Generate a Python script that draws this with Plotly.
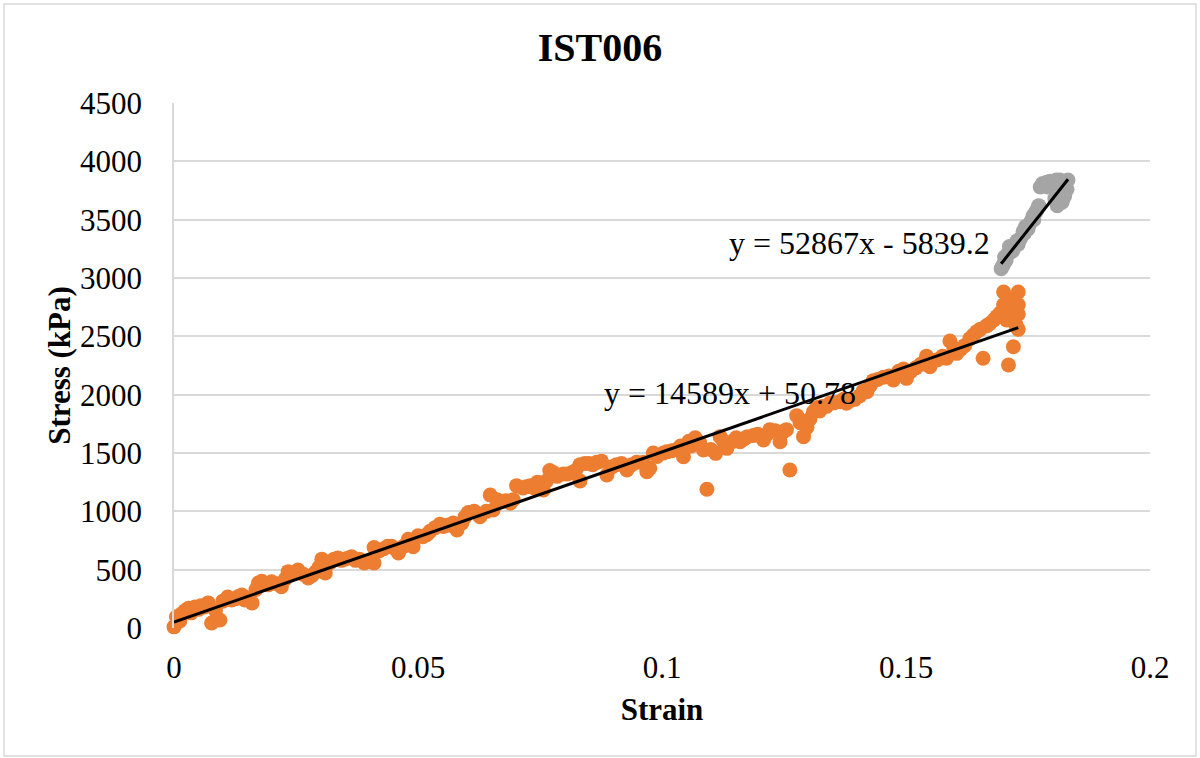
import plotly.graph_objects as go

# ---- data ----
strain_main = [0.0000, 0.0005, 0.0012, 0.0023, 0.0030, 0.0043, 0.0055, 0.0070, 0.0077, 0.0085,
               0.0094, 0.0110, 0.0125, 0.0139, 0.0150, 0.0160, 0.0173, 0.0187, 0.0200, 0.0220,
               0.0234, 0.0254, 0.0265, 0.0275, 0.0290, 0.0303, 0.0310, 0.0320, 0.0336, 0.0350,
               0.0364, 0.0380, 0.0390, 0.0410, 0.0410, 0.0430, 0.0446, 0.0460, 0.0480, 0.0490,
               0.0500, 0.0510, 0.0525, 0.0545, 0.0560, 0.0572, 0.0580, 0.0603, 0.0615, 0.0627,
               0.0648, 0.0654, 0.0670, 0.0689, 0.0702, 0.0715, 0.0730, 0.0745, 0.0757, 0.0770,
               0.0785, 0.0798, 0.0815, 0.0832, 0.0832, 0.0850, 0.0866, 0.0887, 0.0907, 0.0928,
               0.0948, 0.0962, 0.0969, 0.0975, 0.0982, 0.1003, 0.1010, 0.1030, 0.1044, 0.1055,
               0.1068, 0.1085, 0.1092, 0.1110, 0.1119, 0.1133, 0.1145, 0.1160, 0.1175, 0.1187,
               0.1208, 0.1221, 0.1242, 0.1255, 0.1262, 0.1276, 0.1290, 0.1303, 0.1317, 0.1330,
               0.1344, 0.1365, 0.1378, 0.1395, 0.1420, 0.1433, 0.1454, 0.1474, 0.1495, 0.1501,
               0.1520, 0.1542, 0.1549, 0.1565, 0.1583, 0.1590, 0.1604, 0.1620, 0.1631, 0.1645,
               0.1658, 0.1672, 0.1686, 0.1700, 0.1700, 0.1706, 0.1710, 0.1720, 0.1730, 0.1730,
               0.1730, 0.1730]
stress_main = [10, 97, 60, 150, 170, 180, 190, 215, 43, 150,
               69, 266, 250, 283, 260, 214, 386, 380, 397, 354,
               483, 497, 460, 428, 480, 590, 471, 560, 600, 590,
               610, 590, 557, 557, 690, 680, 700, 643, 760, 697,
               790, 783, 830, 890, 880, 900, 840, 990, 1000, 954,
               1140, 1011, 1080, 1069, 1220, 1200, 1220, 1250, 1183, 1350,
               1300, 1320, 1330, 1400, 1260, 1410, 1420, 1311, 1400, 1354,
               1420, 1420, 1340, 1369, 1500, 1500, 1510, 1530, 1468, 1600,
               1630, 1526, 1189, 1497, 1640, 1540, 1600, 1597, 1640, 1650,
               1611, 1700, 1597, 1700, 1354, 1820, 1640, 1790, 1890, 1900,
               1926, 1940, 1926, 1960, 2026, 2120, 2150, 2126, 2220, 2140,
               2230, 2330, 2240, 2300, 2312, 2460, 2354, 2420, 2480, 2540,
               2312, 2610, 2670, 2880, 2770, 2640, 2254, 2411, 2880, 2770,
               2690, 2560]

# further points
strain_main_b = [0.0015, 0.0035, 0.0050, 0.0063, 0.0100, 0.0118, 0.0132, 0.0145, 0.0168, 0.0180,
                 0.0193, 0.0210, 0.0228, 0.0243, 0.0283, 0.0297, 0.0328, 0.0343, 0.0357, 0.0372,
                 0.0400, 0.0420, 0.0438, 0.0453, 0.0470, 0.0518, 0.0535, 0.0552, 0.0590, 0.0596,
                 0.0640, 0.0662, 0.0680, 0.0695, 0.0722, 0.0738, 0.0763, 0.0778, 0.0806, 0.0823,
                 0.0842, 0.0858, 0.0876, 0.0897, 0.0917, 0.0938, 0.0990, 0.1020, 0.1038, 0.1060,
                 0.1077, 0.1100, 0.1126, 0.1152, 0.1168, 0.1196, 0.1215, 0.1232, 0.1248, 0.1283,
                 0.1297, 0.1310, 0.1323, 0.1337, 0.1352, 0.1372, 0.1386, 0.1405, 0.1412, 0.1427,
                 0.1442, 0.1465, 0.1485, 0.1510, 0.1530, 0.1557, 0.1575, 0.1598, 0.1612, 0.1638,
                 0.1652, 0.1665, 0.1680, 0.1693, 0.1715, 0.1718, 0.1725]
stress_main_b = [120, 130, 160, 180, 230, 240, 270, 240, 330, 400,
                 370, 380, 420, 470, 450, 520, 590, 580, 600, 580,
                 570, 660, 700, 680, 700, 800, 860, 870, 900, 950,
                 1000, 1100, 1090, 1100, 1210, 1200, 1260, 1330, 1320, 1350,
                 1410, 1400, 1430, 1380, 1410, 1400, 1470, 1520, 1560, 1560,
                 1590, 1530, 1600, 1630, 1620, 1660, 1660, 1690, 1680, 1760,
                 1720, 1850, 1860, 1900, 1930, 1960, 1950, 1990, 2030, 2080,
                 2130, 2160, 2200, 2200, 2260, 2290, 2330, 2400, 2390, 2510,
                 2560, 2590, 2640, 2700, 2700, 2820, 2600]

strain_end = [0.1695, 0.1700, 0.1702, 0.1705, 0.1710, 0.1712, 0.1720, 0.1725, 0.1730, 0.1735,
              0.1740, 0.1745, 0.1750, 0.1755, 0.1760, 0.1765, 0.1770, 0.1772, 0.1775, 0.1780,
              0.1785, 0.1790, 0.1795, 0.1800, 0.1805, 0.1810, 0.1815, 0.1820, 0.1825, 0.1825,
              0.1820, 0.1810, 0.1805, 0.1830, 0.1832, 0.1698, 0.1708, 0.1718, 0.1728, 0.1742,
              0.1752, 0.1762, 0.1768, 0.1778, 0.1788, 0.1798, 0.1808, 0.1818, 0.1822, 0.1828]
stress_end = [3080, 3120, 3180, 3150, 3210, 3270, 3250, 3300, 3290, 3340,
              3400, 3440, 3420, 3480, 3530, 3560, 3600, 3620, 3780, 3810,
              3800, 3780, 3830, 3820, 3830, 3810, 3840, 3830, 3800, 3700,
              3650, 3620, 3680, 3760, 3840, 3100, 3200, 3230, 3320, 3380,
              3450, 3500, 3580, 3790, 3820, 3800, 3840, 3780, 3700, 3820]

# trendline equations as shown in the chart
fit_main = (14589.0, 50.78)
fit_end = (52867.0, -5839.2)

x_ticks = [0, 0.05, 0.1, 0.15, 0.2]
y_ticks = [0, 500, 1000, 1500, 2000, 2500, 3000, 3500, 4000, 4500]

ORANGE = "#ED7D31"
GRAY = "#A5A5A5"
GRID = "#D9D9D9"
FONT = "Liberation Serif"

all_main_x = strain_main + strain_main_b
all_main_y = stress_main + stress_main_b

fig = go.Figure()
fig.add_trace(go.Scatter(x=all_main_x, y=all_main_y, mode="markers", cliponaxis=False,
                         marker=dict(color=ORANGE, size=15, line=dict(width=0)),
                         showlegend=False))
fig.add_trace(go.Scatter(x=strain_end, y=stress_end, mode="markers", cliponaxis=False,
                         marker=dict(color=GRAY, size=15, line=dict(width=0)),
                         showlegend=False))

# trendlines spanning each series' x range
for xs, (m, b) in ((all_main_x, fit_main), (strain_end, fit_end)):
    x0, x1 = min(xs), max(xs)
    fig.add_trace(go.Scatter(x=[x0, x1], y=[m * x0 + b, m * x1 + b], mode="lines",
                             cliponaxis=False,
                             line=dict(color="black", width=3), showlegend=False))

# layout geometry (pixels)
W, H = 1200, 758
L, R, T, B = 174, 1150, 103, 628

fig.update_layout(
    width=W, height=H,
    margin=dict(l=L, r=W - R, t=T, b=H - B, pad=0),
    paper_bgcolor="white", plot_bgcolor="white",
    font=dict(family=FONT, size=31, color="black"),
    title=dict(text="<b>IST006</b>", x=0.5, xref="container", xanchor="center",
               y=1 - 47 / H, yref="container", yanchor="middle",
               font=dict(family=FONT, size=40, color="black")),
    xaxis=dict(range=[0, 0.2], tickvals=x_ticks, ticktext=[str(v) for v in x_ticks],
               showgrid=False, zeroline=False, showline=False, ticks="",
               ticklabelstandoff=18,
               title=dict(text="<b>Strain</b>", standoff=14,
                          font=dict(family=FONT, size=31, color="black"))),
    yaxis=dict(range=[0, 4500], tickvals=y_ticks, ticktext=[str(v) for v in y_ticks],
               showgrid=True, gridcolor=GRID, gridwidth=1.5, zeroline=False,
               showline=True, linecolor=GRID, linewidth=1.5, ticks="",
               ticklabelstandoff=24,
               title=dict(text="<b>Stress (kPa)</b>", standoff=0,
                          font=dict(family=FONT, size=31, color="black"))),
)

# equation labels
fig.add_annotation(x=0.1676, y=3300, xref="x", yref="y", text="y = 52867x - 5839.2",
                   showarrow=False, xanchor="right", yanchor="middle",
                   font=dict(family=FONT, size=32, color="black"))
fig.add_annotation(x=0.1402, y=2014, xref="x", yref="y", text="y = 14589x + 50.78",
                   showarrow=False, xanchor="right", yanchor="middle",
                   font=dict(family=FONT, size=32, color="black"))

# outer chart border
def px_x(p):
    return (p - L) / (R - L)

def px_y(p):
    return (B - p) / (B - T)

fig.add_shape(type="rect", xref="paper", yref="paper",
              x0=px_x(4), x1=px_x(1196), y0=px_y(756), y1=px_y(4),
              line=dict(color=GRID, width=1.5), fillcolor="rgba(0,0,0,0)", layer="below")

fig.write_html("out.html")
